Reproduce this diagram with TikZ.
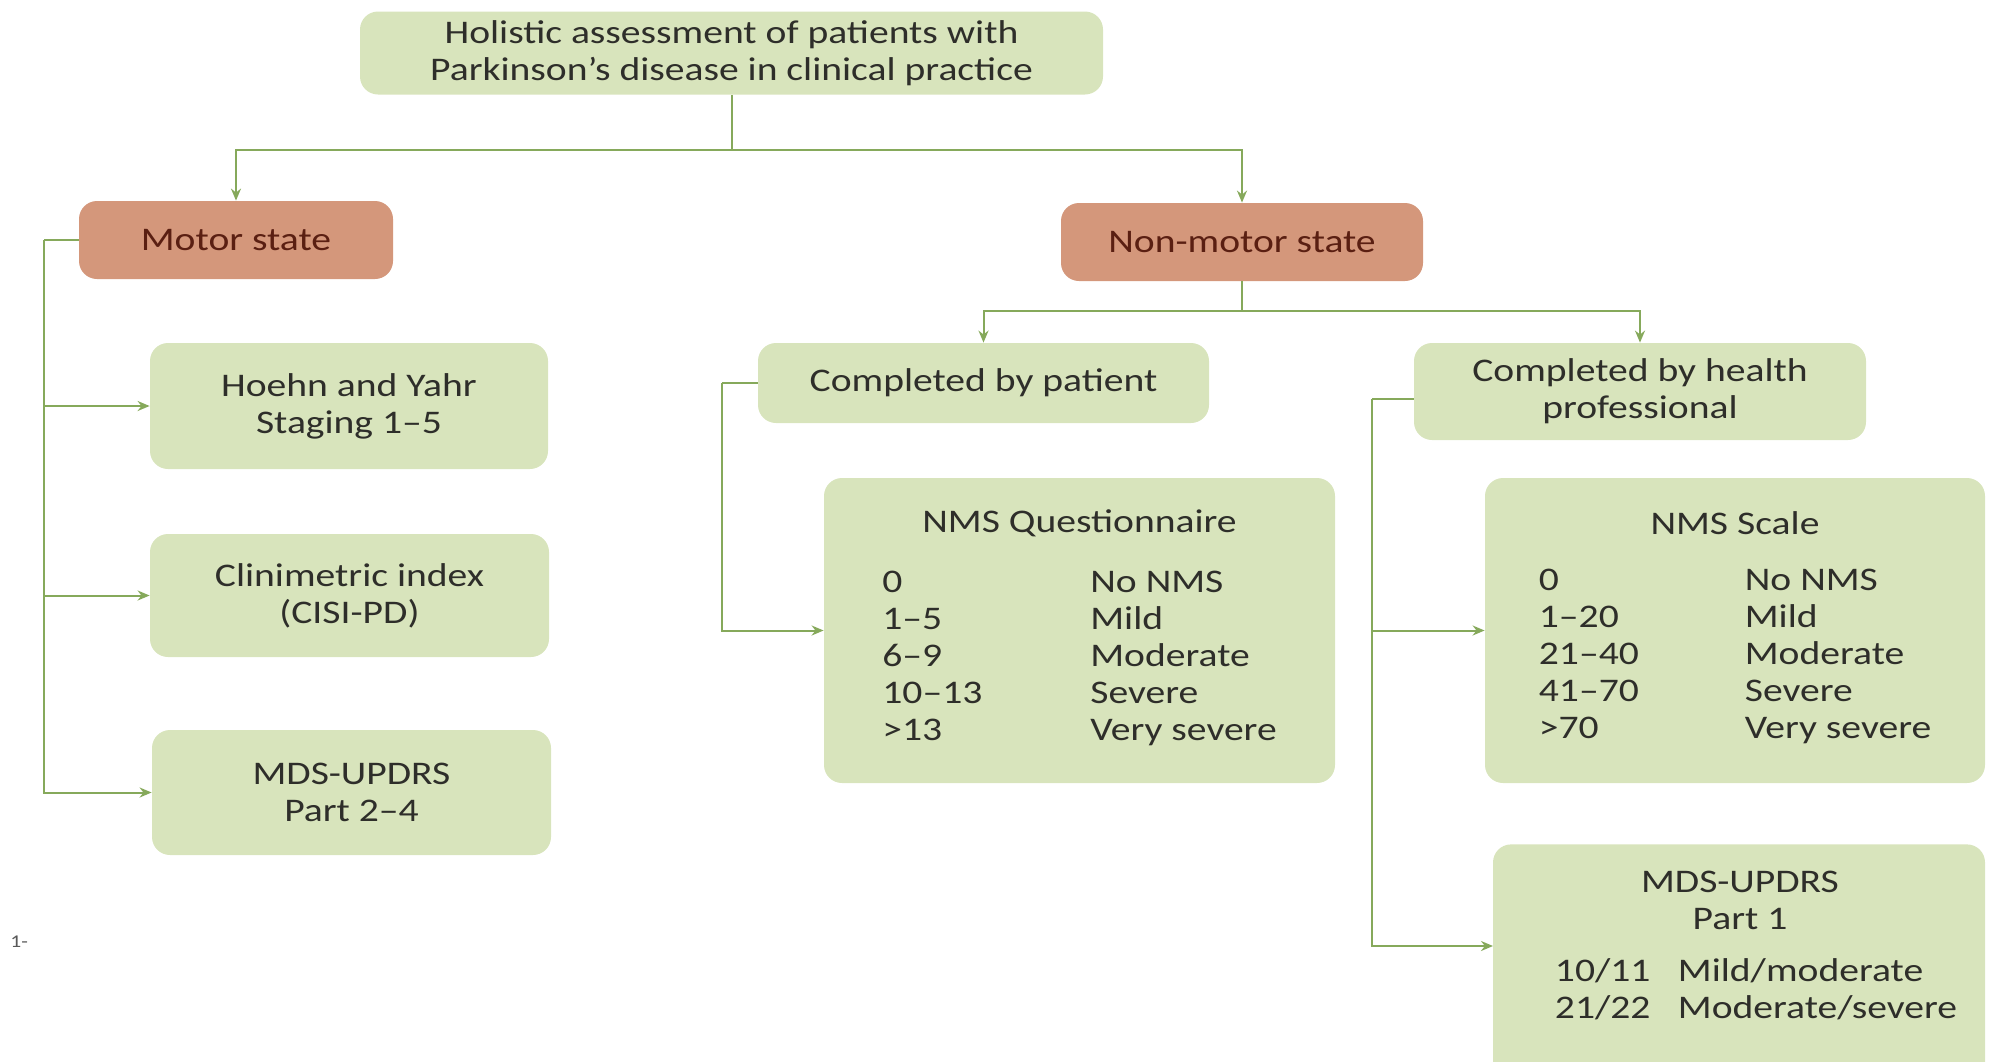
\documentclass[tikz,border=0pt]{standalone}
\usepackage{fontspec}
\setmainfont{Carlito}[FakeStretch=1.2]
\usetikzlibrary{arrows.meta}
\definecolor{boxgreen}{HTML}{D8E4BC}
\definecolor{boxsalmon}{HTML}{D4977B}
\definecolor{linegreen}{HTML}{86A95B}
\definecolor{txtdark}{HTML}{2E2E2A}
\definecolor{txtred}{HTML}{5A1F12}
\begin{document}
\begin{tikzpicture}[x=0.5pt,y=-0.5pt,
  basebox/.style={rounded corners=9pt, align=center, inner sep=0pt,
     font=\fontsize{16.5}{18.5}\selectfont},
  gbox/.style={basebox, fill=boxgreen, text=txtdark},
  sbox/.style={basebox, fill=boxsalmon, text=txtred},
  txt/.style={align=center, inner sep=0pt, text=txtdark, font=\fontsize{16.5}{18.5}\selectfont},
  conn/.style={draw=linegreen, line width=1pt},
  arr/.style={conn, -{Stealth[length=6pt,width=5pt]}},
]
\useasboundingbox (0,0) rectangle (1992,1061);
\clip (0,0) rectangle (1992,1061);

% boxes (sizes in pt = half the pixel size)
\node[gbox, minimum width=371.5pt, minimum height=41.5pt] (top) at (731.5,53)
  {Holistic assessment of patients with\\Parkinson’s disease in clinical practice};
\node[sbox, minimum width=157pt, minimum height=39pt] (motor) at (236,240) {Motor state};
\node[sbox, minimum width=181pt, minimum height=39pt] (nonmotor) at (1242,242) {Non-motor state};

\node[gbox, minimum width=199pt, minimum height=63pt] (hoehn) at (349,406)
  {Hoehn and Yahr\\Staging 1–5};
\node[gbox, minimum width=199.5pt, minimum height=61.5pt] (clin) at (349.5,595.5)
  {Clinimetric index\\(CISI-PD)};
\node[gbox, minimum width=199.5pt, minimum height=62.5pt] (mdsA) at (351.5,792.5)
  {MDS-UPDRS\\Part 2–4};

\node[gbox, minimum width=225.5pt, minimum height=40pt] (patient) at (983.5,383)
  {Completed by patient};
\node[gbox, minimum width=226pt, minimum height=48.5pt] (health) at (1640,391.5)
  {Completed by health\\professional};

\node[gbox, minimum width=255.5pt, minimum height=152.5pt] (nmsq) at (1079.5,630.5)
  {NMS Questionnaire\\[14pt]
   \begin{tabular}{@{}p{104pt}@{}l@{}}
   0 & No NMS\\ 1–5 & Mild\\ 6–9 & Moderate\\ 10–13 & Severe\\ >13 & Very severe
   \end{tabular}};
\node[gbox, minimum width=250pt, minimum height=152.5pt] (nmss) at (1735,630.5)
  {NMS Scale\\[14pt]
   \begin{tabular}{@{}p{103pt}@{}l@{}}
   0 & No NMS\\ 1–20 & Mild\\ 21–40 & Moderate\\ 41–70 & Severe\\ >70 & Very severe
   \end{tabular}};

\node[gbox, minimum width=246pt, minimum height=130pt, anchor=north] (mdsone) at (1739,844) {};
\node[txt] (mdsonetxt) at (1740,950)
  {MDS-UPDRS\\Part 1\\[12pt]
   \hspace*{16pt}\begin{tabular}{@{}p{61.5pt}@{}l@{}}
   10/11 & Mild/moderate\\ 21/22 & Moderate/severe
   \end{tabular}};

\node[inner sep=0pt, text=black!65, font=\fontsize{9}{10}\selectfont, anchor=west] (stray) at (10,942) {1-};

% junctions
\coordinate (jA) at (731.5,150);
\coordinate (mL) at (44,240);
\coordinate (jB) at (1242,311);
\coordinate (pL) at (722,383);
\coordinate (hL) at (1372,399);
\coordinate (mdsonein) at (1493,946);

% connectors
\draw[conn] (top.south) -- (jA);
\draw[arr] (jA) -| (motor.north);
\draw[arr] (jA) -| (nonmotor.north);

\draw[conn] (motor.west) -- (mL);
\draw[arr] (mL) |- (hoehn.west);
\draw[arr] (mL) |- (clin.west);
\draw[arr] (mL) |- (mdsA.west);

\draw[conn] (nonmotor.south) -- (jB);
\draw[arr] (jB) -| (patient.north);
\draw[arr] (jB) -| (health.north);

\draw[conn] (patient.west) -- (pL);
\draw[arr] (pL) |- (nmsq.west);

\draw[conn] (health.west |- hL) -- (hL);
\draw[arr] (hL) |- (nmss.west);
\draw[arr] (hL) |- (mdsonein);
\end{tikzpicture}
\end{document}
